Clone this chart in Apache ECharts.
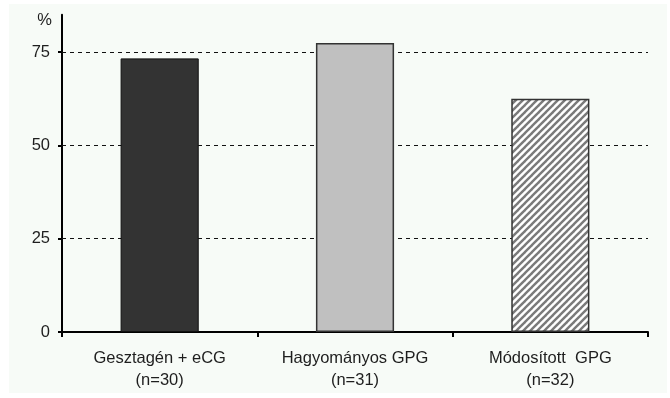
<!DOCTYPE html>
<html>
<head>
<meta charset="utf-8">
<script src="https://cdn.jsdelivr.net/npm/echarts@6/dist/echarts.min.js"></script>
<style>
  html, body { margin: 0; padding: 0; background: #ffffff; }
  #chart { width: 670px; height: 398px; }
</style>
</head>
<body>
<div id="chart"></div>
<script>
// ---- data ----
const categories = ['Gesztagén + eCG', 'Hagyományos GPG', 'Módosított  GPG'];
const groupSizes = ['(n=30)', '(n=31)', '(n=32)'];
const percentValues = [73.3, 77.4, 62.5];
const yTicks = [0, 25, 50, 75];
const yAxisMax = 85;
const yAxisName = '%';

// hatch pattern for the third bar
function makeHatch() {
  const size = 7;
  const c = document.createElement('canvas');
  c.width = size; c.height = size;
  const ctx = c.getContext('2d');
  ctx.fillStyle = '#ffffff';
  ctx.fillRect(0, 0, size, size);
  ctx.strokeStyle = '#7a7a7a';
  ctx.lineWidth = 2.4;
  for (let k = -1; k <= 1; k++) {
    ctx.beginPath();
    ctx.moveTo(k * size - 1, size + 1);
    ctx.lineTo(k * size + size + 1, -1);
    ctx.stroke();
  }
  return c;
}

const barStyles = [
  { color: '#333333', borderColor: '#111111', borderWidth: 1 },
  { color: '#c0c0c0', borderColor: '#333333', borderWidth: 1.5 },
  { color: { image: makeHatch(), repeat: 'repeat' }, borderColor: '#333333', borderWidth: 1.5 }
];

const chart = echarts.init(document.getElementById('chart'), null, { renderer: 'canvas' });
const font = '"Liberation Sans", Arial, sans-serif';

chart.setOption({
  backgroundColor: '#ffffff',
  animation: false,
  textStyle: { fontFamily: font },
  graphic: [{
    type: 'rect',
    z: -100,
    shape: { x: 9, y: 4, width: 658, height: 389 },
    style: { fill: '#f7fbf7' },
    silent: true
  }],
  grid: { left: 62, right: 22, top: 14.7, bottom: 66, containLabel: false },
  xAxis: {
    type: 'category',
    data: categories,
    axisLine: { show: true, lineStyle: { color: '#000', width: 2 } },
    axisTick: { show: true, alignWithLabel: false, length: 5, lineStyle: { color: '#000', width: 2 } },
    axisLabel: {
      interval: 0,
      margin: 15,
      fontSize: 16.5,
      lineHeight: 22,
      color: '#1e1e1e',
      fontFamily: font,
      formatter: function (v, i) { return v + '\n' + groupSizes[i]; }
    },
    splitLine: { show: false }
  },
  yAxis: {
    type: 'value',
    min: 0,
    max: yAxisMax,
    interval: 25,
    name: yAxisName,
    nameLocation: 'end',
    nameGap: -6,
    nameTextStyle: { fontSize: 16.5, color: '#1e1e1e', align: 'right', verticalAlign: 'middle', padding: [0, 10, 0, 0], fontFamily: font },
    axisLine: { show: true, lineStyle: { color: '#000', width: 2 } },
    axisTick: { show: true, length: 4, customValues: yTicks, lineStyle: { color: '#000', width: 2 } },
    axisLabel: {
      customValues: yTicks,
      margin: 12,
      fontSize: 16.5,
      color: '#1e1e1e',
      fontFamily: font,
      formatter: function (v) { return yTicks.indexOf(v) >= 0 ? String(v) : ''; }
    },
    splitLine: { show: false }
  },
  series: [{
    type: 'bar',
    barWidth: '40%',
    data: percentValues.map(function (v, i) { return { value: v, itemStyle: barStyles[i] }; }),
    markLine: {
      silent: true,
      symbol: 'none',
      label: { show: false },
      z: 1,
      lineStyle: { color: '#111', type: [4, 4], width: 1 },
      emphasis: { disabled: true },
      data: yTicks.filter(function (t) { return t > 0; }).map(function (t) { return { yAxis: t }; })
    }
  }]
});
</script>
</body>
</html>
